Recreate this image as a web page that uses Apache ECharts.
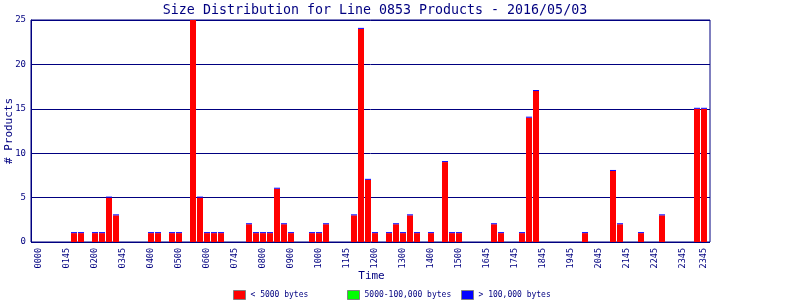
<!DOCTYPE html>
<html>
<head>
<meta charset="utf-8">
<script src="https://cdn.jsdelivr.net/npm/echarts@6/dist/echarts.min.js"></script>
<style>html,body{margin:0;padding:0;background:#fff}#c{width:800px;height:300px}</style>
</head>
<body>
<div id="c"></div>
<script>
// Tick labels shown every 4th slot (and the last slot)
var tickLabels = ['0000','0145','0200','0345','0400','0500','0600','0745','0800','0900','1000','1145','1200','1300','1400','1500','1645','1745','1845','1945','2045','2145','2245','2345','2345'];

// 96 quarter-hour slots
var small = [
 0,0,0,0,0,1,1,0, 1,1,5,3,0,0,0,0,
 1,1,0,1,1,0,25,5, 1,1,1,0,0,0,2,1,
 1,1,6,2,1,0,0,1, 1,2,0,0,0,3,24,7,
 1,0,1,2,1,3,1,0, 1,0,9,1,1,0,0,0,
 0,2,1,0,0,1,14,17, 0,0,0,0,0,0,1,0,
 0,0,8,2,0,0,1,0, 0,3,0,0,0,0,15,15
];
var medium = [
 0,0,0,0,0,0,0,0, 0,0,0,0,0,0,0,0,
 0,0,0,0,0,0,0,0, 0,0,0,0,0,0,0,0,
 0,0,0,0,0,0,0,0, 0,0,0,0,0,0,0,0,
 0,0,0,0,0,0,0,0, 0,0,0,0,0,0,0,0,
 0,0,0,0,0,0,0,0, 0,0,0,0,0,0,0,0,
 0,0,0,0,0,0,0,0, 0,0,0,0,0,0,0,0
];
var large = [
 '-','-','-','-','-',0,0,'-', 0,0,0,0,'-','-','-','-',
 0,0,'-',0,0,'-',0,0, 0,0,0,'-','-','-',0,0,
 0,0,0,0,0,'-','-',0, 0,0,'-','-','-',0,0,0,
 0,'-',0,0,0,0,0,'-', 0,'-',0,0,0,'-','-','-',
 '-',0,0,'-','-',0,0,0, '-','-','-','-','-','-',0,'-',
 '-','-',0,0,'-','-',0,'-', '-',0,'-','-','-','-',0,0
];
var seriesNames = ['< 5000 bytes','5000-100,000 bytes','> 100,000 bytes'];
var seriesColors = ['#ff0000','#00ff00','#0000ff'];

var slots = [];
for (var i = 0; i < small.length; i++) slots.push(String(i));
function slotLabel(i) {
  if (i % 4 === 0) return tickLabels[i / 4];
  if (i === small.length - 1) return tickLabels[tickLabels.length - 1];
  return '';
}

var navy = '#000080';
var mono = 'DejaVu Sans Mono';
var chart = echarts.init(document.getElementById('c'), null, {renderer: 'canvas'});

function legendAt(idx, left) {
  return {
    left: left, top: 290, itemWidth: 12, itemHeight: 9, itemGap: 0, padding: 0,
    data: [seriesNames[idx]],
    icon: 'rect',
    itemStyle: {borderColor: '#808080', borderWidth: 1},
    textStyle: {color: navy, fontFamily: mono, fontSize: 8},
    selectedMode: false
  };
}

chart.setOption({
  animation: false,
  backgroundColor: '#ffffff',
  title: {
    text: 'Size Distribution for Line 0853 Products - 2016/05/03',
    left: 370, textAlign: 'center', top: -1,
    textStyle: {color: navy, fontFamily: mono, fontSize: 13.3, fontWeight: 'normal'}
  },
  legend: [legendAt(0, 233), legendAt(1, 347), legendAt(2, 461)],
  grid: [
    {left: 31, right: 90, top: 20, bottom: 58, show: true, borderColor: navy, borderWidth: 1,
     containLabel: false, outerBoundsMode: 'none'},
    {left: 35.5, right: 92.5, top: 20, bottom: 58, show: false,
     containLabel: false, outerBoundsMode: 'none'}
  ],
  xAxis: [
    {gridIndex: 0, type: 'value', min: 0, max: 1, show: false},
    {
      gridIndex: 1, type: 'category', data: slots,
      name: 'Time', nameLocation: 'middle', nameGap: 29, nameMoveOverlap: false,
      nameTextStyle: {color: navy, fontFamily: mono, fontSize: 11},
      axisLine: {show: false},
      axisTick: {show: false},
      axisLabel: {
        interval: 0, rotate: 90, margin: 6, color: navy, fontFamily: mono, fontSize: 8.5,
        formatter: function (v, i) { return slotLabel(i); }
      }
    }
  ],
  yAxis: [
    {
      gridIndex: 0, type: 'value', min: 0, max: 25, interval: 5,
      name: '# Products', nameLocation: 'middle', nameGap: 16, nameMoveOverlap: false,
      nameTextStyle: {color: navy, fontFamily: mono, fontSize: 11},
      axisLine: {show: true, lineStyle: {color: navy}},
      axisTick: {show: false},
      splitLine: {lineStyle: {color: navy, width: 1}},
      axisLabel: {color: navy, fontFamily: mono, fontSize: 9, margin: 5}
    },
    {gridIndex: 1, type: 'value', min: 0, max: 25, interval: 5, show: false, splitLine: {show: false}}
  ],
  series: [
    {name: seriesNames[0], type: 'bar', stack: 's', xAxisIndex: 1, yAxisIndex: 1, data: small, barWidth: 6,
     itemStyle: {color: seriesColors[0]}},
    {name: seriesNames[1], type: 'bar', stack: 's', xAxisIndex: 1, yAxisIndex: 1, data: medium, barWidth: 6,
     itemStyle: {color: seriesColors[1]}},
    {name: seriesNames[2], type: 'bar', stack: 's', xAxisIndex: 1, yAxisIndex: 1, data: large, barWidth: 6, barMinHeight: 1,
     itemStyle: {color: seriesColors[2]}}
  ]
});
</script>
</body>
</html>
